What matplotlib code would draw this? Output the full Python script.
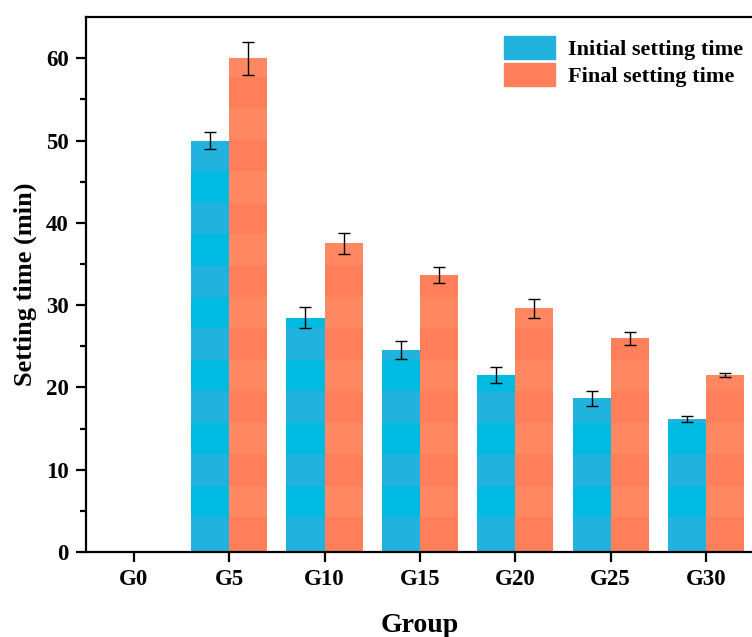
import numpy as np
import matplotlib
matplotlib.use("Agg")
import matplotlib.pyplot as plt
import matplotlib.patches as mpatches

plt.rcParams['font.family'] = ['Liberation Serif', 'DejaVu Serif']
plt.rcParams['font.weight'] = 'bold'

groups = ['G0', 'G5', 'G10', 'G15', 'G20', 'G25', 'G30']
initial = [np.nan, 50.0, 28.5, 24.5, 21.5, 18.7, 16.2]
initial_err = [np.nan, 1.0, 1.3, 1.1, 1.0, 0.9, 0.35]
final = [np.nan, 60.0, 37.5, 33.7, 29.6, 26.0, 21.5]
final_err = [np.nan, 2.0, 1.3, 1.0, 1.2, 0.8, 0.2]

blue = ['#21B3DD', '#00BBE1']
orange = ['#FF7F5B', '#FF8762']

fig = plt.figure(figsize=(7.52, 6.37), dpi=100)
ax = fig.add_axes([0.1144, 0.1334, 0.888, 0.8396])

x = np.arange(len(groups))
w = 0.4


def striped_bars(xs, heights, colors):
    # horizontal bands of alternating shade, like the gradient fill in the original
    for xi, h in zip(xs, heights):
        if np.isnan(h):
            continue
        lo = 0.0
        step = 4.26
        k = 0
        while lo < h:
            hi = min(lo + step, h)
            ax.bar(xi, hi - lo, width=w, bottom=lo, color=colors[k % 2],
                   edgecolor='none', linewidth=0, zorder=2)
            lo = hi
            step = 3.82
            k += 1


striped_bars(x - w / 2, initial, blue)
striped_bars(x + w / 2, final, orange)

ax.errorbar(x - w / 2, initial, yerr=initial_err, fmt='none', ecolor='black',
            elinewidth=1.0, capsize=4.5, capthick=1.0, zorder=3)
ax.errorbar(x + w / 2, final, yerr=final_err, fmt='none', ecolor='black',
            elinewidth=1.0, capsize=4.5, capthick=1.0, zorder=3)

ax.set_xlim(-0.5, 6.5)
ax.set_ylim(0, 65)
ax.set_xticks(x)
ax.set_xticklabels(groups)
ax.set_yticks(np.arange(0, 61, 10))
ax.set_yticks(np.arange(5, 65, 10), minor=True)

for s in ax.spines.values():
    s.set_linewidth(1.6)
ax.tick_params(axis='both', which='major', direction='out', length=7.5, width=1.6,
               labelsize=16.5, pad=5)
ax.tick_params(axis='y', which='minor', direction='out', length=4, width=1.6)
for lab in ax.get_xticklabels() + ax.get_yticklabels():
    lab.set_fontweight('bold')

ax.set_ylabel('Setting time (min)', fontsize=19, fontweight='bold', labelpad=6)
ax.set_xlabel('Group', fontsize=20, fontweight='bold', labelpad=16)

handles = [mpatches.Patch(color=blue[0], label='Initial setting time'),
           mpatches.Patch(color=orange[0], label='Final setting time')]
ax.legend(handles=handles, loc='upper right', bbox_to_anchor=(1.0, 0.986),
          frameon=False, handlelength=2.3, handleheight=1.2, handletextpad=0.55,
          labelspacing=0.15, borderpad=0.4, borderaxespad=0.1,
          prop={'weight': 'bold', 'size': 16})

fig.savefig('out.png', dpi=100)
